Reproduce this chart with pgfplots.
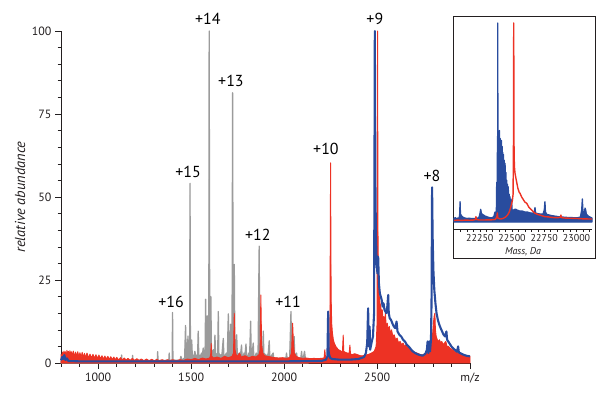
\documentclass[border=0pt]{standalone}
\usepackage{pgfplots}
\pgfplotsset{compat=1.18}
\usepackage{fontspec}
\setmainfont{PT Sans}
\definecolor{specblue}{RGB}{41,76,158}
\definecolor{specred}{RGB}{237,50,36}
\definecolor{specgray}{RGB}{155,155,155}
\definecolor{axgray}{RGB}{35,31,32}
\begin{document}
\begin{tikzpicture}[x=1bp,y=1bp]
\path (0,0) rectangle (600,402);
\begin{axis}[
  at={(61bp,39bp)}, anchor=south west,
  scale only axis, width=409bp, height=332bp,
  xmin=800, xmax=3000, ymin=0, ymax=100,
  axis x line=bottom, axis y line=left,
  axis line style={-, line width=0.6bp, draw=axgray},
  tick style={line width=0.6bp, draw=axgray},
  tick align=outside, major tick length=6bp, minor tick length=3.5bp,
  xtick={1000,1500,2000,2500,3000},
  xticklabels={1000,1500,2000,2500,m/z},
  minor xtick={800,900,...,3000},
  ytick={0,25,50,75,100},
  minor ytick={5,10,...,95},
  /pgf/number format/assume math mode=true,
  tick label style={font=\fontsize{12}{14}\selectfont, text=axgray},
  ylabel={\itshape relative abundance},
  ylabel style={at={(axis description cs:-0.1,0.5)}, anchor=center, font=\fontsize{14.5}{16}\selectfont, text=axgray},
  clip=false,
]
% gray spectrum
\addplot[draw=specgray, fill=specgray, line width=1.3bp, line join=round] table {
x y
800 0.5
1120 0.6
1124 0.6
1126 2.4
1128 0.6
1183 0.6
1185 2.3
1187 0.6
1318 0.7
1320 3.4
1322 0.7
1380 0.8
1382 3.0
1384 0.8
1398 0.8
1400 15.2
1402 0.8
1440 0.8
1445 2.0
1450 0.9
1465 1.5
1470 11.3
1473 3.5
1477 6
1480 2.5
1483 8.1
1486 3
1492 4
1494 54.1
1496 5
1500 3
1503 6.9
1506 2.5
1515 2
1520 3.5
1525 2
1535 2.5
1538 9.6
1541 2.5
1550 2
1556 3
1560 2
1565 4.5
1568 2.5
1575 3
1578 19.2
1581 6
1584 5
1587 14.2
1590 6
1595 5
1597 100
1600 6
1603 5
1606 20
1609 4
1615 3
1620 4
1625 3
1628 8.4
1631 3
1638 2.5
1643 3
1646 15.5
1649 3
1655 2
1660 2.5
1665 2
1673 7.4
1676 2
1685 2.5
1690 3
1695 3
1700 14.8
1703 4
1708 3
1712 11.7
1715 5
1720 6
1723 81.4
1726 8
1729 8
1732 29.7
1735 6
1740 4
1745 8.5
1748 3
1755 2.5
1760 3
1765 2
1771 5.4
1774 2
1780 2
1785 3
1790 2.5
1795 5.7
1798 2
1805 2
1810 3
1815 3
1820 12.6
1823 3
1828 2.5
1834 6
1837 2
1845 2
1850 3
1855 2
1860 3
1866 35.2
1869 4
1875 3
1880 4
1885 3
1888 9.6
1891 3
1900 2.5
1910 2
1915 3
1920 6.7
1923 2
1930 2
1941 3
1944 1.5
1960 1.5
1980 1.2
2000 1.5
2010 1.5
2013 3
2016 1.5
2030 1.5
2037 15.5
2040 2
2050 2
2054 8
2057 2
2063 2
2067 3
2070 1.5
2090 1.5
2094 3.5
2097 1.5
2105 2
2110 3.5
2114 1.5
2130 0.5
} \closedcycle;
% red spectrum
\addplot[draw=specred, fill=specred, line width=0.9bp, line join=round] table {
x y
800 2.6
804 1.2
808 3.3
812 1.6
816 3.6
820 2.0
824 3.4
828 1.8
832 3.8
836 2.2
840 3.5
844 1.9
848 3.7
852 2.1
856 3.4
860 2.0
866 3.6
872 1.8
878 3.3
884 2.0
890 3.4
896 1.8
902 3.1
908 1.7
914 3.2
920 1.6
926 2.9
932 1.7
940 3.0
948 1.5
956 2.7
964 1.5
972 2.6
980 1.4
988 2.5
996 1.3
1004 2.4
1012 1.3
1020 2.2
1028 1.2
1036 2.1
1044 1.2
1052 2.0
1060 1.1
1068 1.9
1076 1.0
1084 1.8
1092 1.0
1100 1.7
1110 0.9
1120 1.6
1130 0.9
1140 1.5
1150 0.9
1160 1.4
1172 0.8
1184 1.4
1196 0.8
1208 1.3
1220 0.8
1232 1.2
1246 0.7
1260 1.2
1274 0.7
1288 1.1
1302 0.7
1316 1.1
1330 0.7
1344 1.0
1358 0.7
1372 1.0
1386 0.7
1400 1.0
1420 0.7
1440 1.0
1460 0.8
1480 1.2
1500 1.0
1520 1.4
1540 1.0
1560 1.5
1580 1.2
1600 1.5
1605 2.5
1608 5.9
1611 2.0
1620 1.5
1640 1.8
1660 1.4
1680 2.0
1700 1.6
1720 2.0
1728 3.0
1732 15.0
1736 4.0
1742 2.5
1750 2.0
1760 3.0
1770 1.8
1790 2.2
1810 1.6
1830 2.0
1850 1.8
1865 2.5
1871 4
1875 20.5
1879 5.5
1885 3.0
1895 2.2
1910 2.0
1930 1.8
1950 1.6
1970 1.5
1990 1.6
2010 1.4
2030 1.6
2040 3
2046 12.0
2050 6
2055 3.0
2065 2.0
2080 1.6
2100 1.4
2120 1.5
2140 1.3
2160 1.4
2180 1.3
2200 1.4
2215 1.5
2219 4.0
2223 1.5
2240 2.0
2246 5
2250 60.3
2253 20
2256 12
2260 9
2265 7
2270 6
2278 5
2285 4.5
2292 4
2300 3.8
2308 3.5
2314 3.5
2318 8.4
2321 3.5
2330 3.2
2340 3.0
2350 3.0
2354 5.4
2357 2.8
2365 2.5
2380 2.8
2395 2.5
2410 2.2
2425 2.2
2440 2.4
2455 2.6
2470 3.0
2485 3.5
2495 5
2500 12
2503 100
2505 40
2508 25
2512 20
2516 18
2520 17
2524 15
2528 16
2532 13
2536 14
2540 12
2545 15
2549 11
2555 12
2560 10
2566 11
2572 9
2578 10
2585 8
2592 8.5
2600 7
2608 7.5
2616 6
2624 6.5
2632 5.5
2640 6
2648 5
2656 5.5
2664 4.5
2672 5
2680 4
2690 3.8
2700 3.2
2715 3
2730 2.6
2745 2.4
2760 2.6
2770 3
2780 3.5
2790 5
2798 8
2803 12
2807 14
2811 15
2814 10
2818 8
2824 7
2830 6.5
2836 7
2842 6
2848 6.5
2855 5.5
2862 6
2870 6.5
2876 5
2884 5
2892 4.5
2900 4.2
2910 3.8
2920 3.4
2935 3
2950 2.6
2970 2.3
2990 2
3000 2
} \closedcycle;
% blue spectrum
\addplot[draw=specblue, line width=2.1bp, line join=round] table {
x y
800 0.8
806 1.8
812 1.2
818 2.4
824 0.9
832 1.4
840 0.6
900 0.5
1200 0.5
1600 0.5
2000 0.5
2200 0.6
2225 1.0
2233 2
2237 15.5
2240 3
2248 1.5
2260 1.2
2300 1.0
2350 1.0
2400 1.2
2430 1.8
2440 3
2447 6
2452 16.5
2455 5
2460 11
2463 4
2470 6
2478 8
2484 15
2488 100
2491 55
2494 38
2498 30
2502 27
2506 32
2510 24
2515 21
2520 20
2525 19
2530 17
2535 18
2540 16
2545 15.5
2550 15
2555 17
2560 20.5
2563 15
2568 13.5
2575 13
2582 12
2590 11
2598 10.5
2605 12.5
2610 9.5
2620 8.5
2630 8
2640 7
2650 6.5
2660 5.5
2670 5
2680 4.3
2690 3.6
2700 3.2
2715 2.7
2730 2.4
2745 2.2
2760 2.8
2768 4
2772 6.5
2776 3
2781 6.5
2785 3.5
2790 7
2793 18
2796 52.9
2799 38
2803 28
2808 22
2814 18
2820 15
2827 13
2835 11.5
2842 10.5
2850 9.5
2858 8.5
2866 8
2873 9.5
2877 7
2885 6.3
2893 5.6
2900 5
2910 4.4
2920 3.9
2930 3.4
2936 5
2940 3.2
2950 2.9
2965 2.5
2980 2.2
3000 2
};
\begin{scope}[every node/.style={font=\fontsize{16}{18}\selectfont, text=black, inner sep=0pt}]
\node at (axis cs:1590,103.6) {+14};
\node at (axis cs:1714,84.9) {+13};
\node at (axis cs:1483,57.5) {+15};
\node at (axis cs:1859,38.6) {+12};
\node at (axis cs:1392,18.4) {+16};
\node at (axis cs:2021,18.4) {+11};
\node at (axis cs:2225,64.5) {+10};
\node at (axis cs:2488,103.6) {+9};
\node at (axis cs:2795,56.3) {+8};
\end{scope}
\end{axis}
% inset
\draw[line width=0.8bp, draw=axgray] (453,144) rectangle (595,386);
\begin{axis}[
  at={(454bp,173bp)}, anchor=south west,
  scale only axis, width=138bp, height=213bp,
  xmin=22050, xmax=23120, ymin=-3.5, ymax=103.5,
  axis x line=bottom, axis y line=none,
  axis line style={-, line width=0.6bp, draw=axgray},
  tick style={line width=0.5bp, draw=axgray},
  tick align=outside, major tick length=3bp, minor tick length=2.5bp,
  scaled x ticks=false,
  xtick={22250,22500,22750,23000},
  xticklabels={22250,22500,22750,23000},
  minor xtick={22100,22150,...,23100},
  ytick=\empty,
  tick label style={font=\fontsize{10}{12}\selectfont, text=axgray},
  xticklabel style={yshift=1bp},
  xlabel={\itshape Mass, Da},
  xlabel style={at={(axis description cs:0.5,0)}, anchor=center, yshift=-23bp, font=\fontsize{10}{12}\selectfont, text=axgray},
  clip=false,
]
\addplot[draw=specblue, fill=specblue, line width=1.3bp, line join=round] table {
x y
22050 1.8
22060 2.2
22070 1.6
22080 2.0
22090 1.8
22094 4
22097 10.2
22100 4
22110 3
22120 2.4
22135 2.0
22150 1.8
22170 1.9
22190 1.7
22210 1.8
22230 1.8
22245 2.5
22252 4.5
22257 6.4
22262 4.5
22270 3.8
22280 3.5
22290 3.0
22300 2.8
22315 2.4
22330 2.2
22345 2.2
22358 2.6
22364 4
22368 5
22372 3
22378 4
22381 20
22383 6
22386 35
22388 15
22389 100
22391 20
22394 45
22396 14
22399 40
22401 12
22403 46
22405 12
22408 42
22410 11
22413 40
22415 10
22418 41
22420 10
22423 38
22425 9
22428 35
22430 9
22433 34
22436 8
22440 31
22442 8
22446 29.5
22448 7
22452 25
22454 7
22458 21
22460 6
22465 19
22467 6
22471 17.7
22473 6
22478 14
22480 6
22484 12.7
22487 6
22492 11.5
22494 6
22497 11
22500 6
22510 6
22525 6.5
22540 6
22560 5.5
22580 5.5
22600 5
22620 5
22640 4.6
22660 4.4
22672 5
22678 7.3
22682 4.5
22700 4.2
22720 4
22740 4
22750 6
22755 10.2
22759 5
22770 3.8
22790 3.5
22810 3.2
22830 3.0
22850 2.8
22870 2.6
22890 2.5
22910 2.4
22930 2.3
22950 2.3
22970 2.2
22990 2.2
23010 2.2
23030 2.5
23040 6
23045 11.6
23050 5
23060 4
23066 7
23071 6
23076 4
23090 3
23105 2.5
23120 2
} \closedcycle;
\addplot[draw=specred, line width=1.4bp, line join=round] table {
x y
22050 0.8
22080 1.0
22110 0.8
22140 1.0
22170 0.9
22200 1.0
22215 1.2
22220 2.7
22225 1.2
22250 1.0
22280 1.0
22310 1.1
22340 1.1
22370 1.3
22382 2.5
22386 4.6
22390 2
22410 1.5
22430 1.8
22450 2.5
22465 3.5
22478 5
22488 7
22496 9
22503 11
22508 14
22511 40
22513 100
22515 40
22518 28
22523 24.5
22530 22
22536 20
22545 17
22555 15
22562 14.4
22575 12.5
22590 11
22600 10
22614 9.4
22630 7.5
22645 6.5
22660 5.5
22678 4.4
22700 3.8
22720 3.4
22740 3
22755 2.7
22780 2.6
22800 2.4
22830 2.2
22860 2.2
22875 2.5
22879 3.5
22883 2.2
22910 2
22950 1.9
23000 1.8
23050 1.6
23120 1.5
};
\end{axis}
\end{tikzpicture}
\end{document}
